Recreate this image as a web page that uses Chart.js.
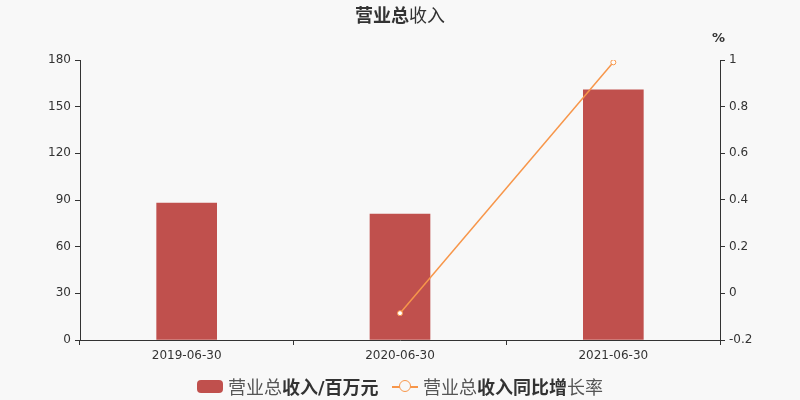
<!DOCTYPE html>
<html><head><meta charset="utf-8">
<script src="https://cdn.jsdelivr.net/npm/chart.js@4/dist/chart.umd.min.js"></script>
<style>
html,body{margin:0;padding:0;background:#f8f8f8;}
#wrap{position:relative;width:800px;height:400px;font-family:"DejaVu Sans","Noto Sans CJK SC",sans-serif;}
#title{position:absolute;left:0;top:1px;width:800px;text-align:center;font-size:18px;color:#333;}
#title b{font-weight:bold;}
#pct{position:absolute;left:712px;top:30px;font-size:13px;color:#333;font-weight:bold;}
#legend{position:absolute;left:0;top:373px;width:800px;height:24px;font-size:18px;color:#555;}
.sw{position:absolute;top:7px;left:197px;width:26px;height:13px;border-radius:4px;background:#c0504d;}
.t1{position:absolute;left:228px;top:0;white-space:nowrap;}
.ln{position:absolute;left:392px;top:13px;width:26px;height:1.5px;background:#f7964a;}
.ci{position:absolute;left:399px;top:7px;border:1.5px solid #f7964a;border-radius:50%;background:#f8f8f8;box-sizing:border-box;width:12px;height:12px;}
.t2{position:absolute;left:423px;top:0;white-space:nowrap;}
.d{color:#333;font-weight:bold;}
</style></head>
<body><div id="wrap">
<canvas id="c" width="800" height="400"></canvas>
<div id="title"><b>营业总</b>收入</div>
<div id="pct">%</div>
<div id="legend">
<div class="sw"></div><div class="t1">营业总<span class="d">收入/百万元</span></div>
<div class="ln"></div><div class="ci"></div><div class="t2">营业总<span class="d">收入同比增</span>长率</div>
</div>
</div>
<script>
const categories = ["2019-06-30","2020-06-30","2021-06-30"];
const revenue = [88.1, 81.0, 160.8];
const growth = [null, -0.085, 0.99];
const leftTicks = [0,30,60,90,120,150,180];
const rightTicks = [-0.2,0,0.2,0.4,0.6,0.8,1];

new Chart(document.getElementById('c'), {
  data: {
    labels: categories,
    datasets: [
      {type:'line', label:'营业总收入同比增长率', data:growth, yAxisID:'y1', borderColor:'#f7964a', borderWidth:1.5,
       pointRadius:2.5, pointBackgroundColor:'#ffffff', pointBorderColor:'#f7964a', pointBorderWidth:1, spanGaps:false, order:0},
      {type:'bar', label:'营业总收入/百万元', data:revenue, yAxisID:'y', backgroundColor:'#c0504d', barThickness:60, order:1}
    ]
  },
  options: {
    responsive:false, animation:false,
    layout:{padding:{top:60,left:0,right:0,bottom:0}},
    plugins:{legend:{display:false}, title:{display:false}, tooltip:{enabled:false}},
    scales:{
      x:{offset:true, grid:{display:true, offset:true, drawOnChartArea:false, tickLength:5, color:'#333'},
         border:{color:'#333'},
         ticks:{color:'#333', font:{family:'DejaVu Sans', size:12}, padding:4, maxRotation:0},
         afterFit(s){s.height=60;}},
      y:{position:'left', min:0, max:180, afterBuildTicks(s){s.ticks=leftTicks.map(v=>({value:v}));},
         grid:{drawOnChartArea:false, tickLength:5, color:'#333'}, border:{color:'#333'},
         ticks:{color:'#333', font:{family:'DejaVu Sans', size:12}, padding:4},
         afterFit(s){s.width=80;}},
      y1:{position:'right', min:-0.2, max:1, afterBuildTicks(s){s.ticks=rightTicks.map(v=>({value:v}));},
         grid:{drawOnChartArea:false, tickLength:5, color:'#333'}, border:{color:'#333'},
         ticks:{color:'#333', font:{family:'DejaVu Sans', size:12}, padding:4, callback:v=>String(Math.round(v*10)/10)},
         afterFit(s){s.width=80;}}
    }
  }
});
</script>
</body></html>
